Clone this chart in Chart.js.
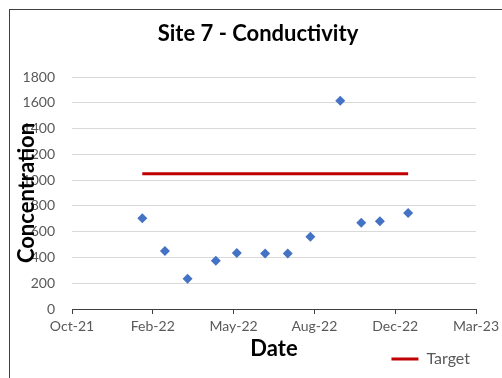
<!DOCTYPE html>
<html>
<head>
<meta charset="utf-8">
<script src="https://cdn.jsdelivr.net/npm/chart.js@4"></script>
<style>
  html, body { margin: 0; padding: 0; background: #fff; }
  #wrap { width: 502px; height: 378px; }
</style>
</head>
<body>
<div id="wrap"><canvas id="siteChart" width="502" height="378"></canvas></div>
<script>
// sample dates and readings (conductivity)
const sampleDates = ['2022-01-26', '2022-02-23', '2022-03-23', '2022-04-27', '2022-05-23', '2022-06-27',
  '2022-07-25', '2022-08-22', '2022-09-28', '2022-10-24', '2022-11-16', '2022-12-21'];
const readings = [705, 450, 235, 375, 435, 430, 430, 560, 1615, 670, 680, 745];
// target line
const targetDates = ['2022-01-26', '2022-12-21'];
const targetValues = [1050, 1050];
// axis ranges (excel date serials on x)
const xMin = 44500, xMax = 45000, xStep = 100;
const yMin = 0, yMax = 1800, yStep = 200;

const MONTHS = ['Jan', 'Feb', 'Mar', 'Apr', 'May', 'Jun', 'Jul', 'Aug', 'Sep', 'Oct', 'Nov', 'Dec'];
const EPOCH = Date.UTC(1899, 11, 30);

function toSerial(iso) {
  return Math.round((Date.parse(iso) - EPOCH) / 86400000);
}

function serialLabel(v) {
  const d = new Date(EPOCH + v * 86400000);
  return MONTHS[d.getUTCMonth()] + '-' + String(d.getUTCFullYear()).slice(2);
}

const FONT = 'Lato, "Open Sans", sans-serif';
const GREY = '#595959';

// white background, outer frame, chart title and both axis titles
const frame = {
  id: 'frame',
  beforeDraw(chart) {
    const ctx = chart.ctx;
    ctx.save();
    ctx.fillStyle = '#fff';
    ctx.fillRect(0, 0, chart.width, chart.height);
    ctx.strokeStyle = '#404040';
    ctx.lineWidth = 1;
    ctx.strokeRect(9.5, 9.5, chart.width + 20, chart.height + 20);
    ctx.restore();
  },
  afterDraw(chart) {
    const ctx = chart.ctx;
    const area = chart.chartArea;
    ctx.save();
    ctx.fillStyle = '#000';
    ctx.textAlign = 'center';
    ctx.textBaseline = 'middle';
    ctx.font = 'bold 22px ' + FONT;
    ctx.fillText('Site 7 - Conductivity', 258, 34);
    ctx.fillText('Date', (area.left + area.right) / 2, 349);
    ctx.translate(27, (area.top + area.bottom) / 2);
    ctx.rotate(-Math.PI / 2);
    ctx.fillText('Concentration', 0, 0);
    ctx.restore();
  }
};

const points = sampleDates.map((d, i) => ({ x: toSerial(d), y: readings[i] }));
const target = targetDates.map((d, i) => ({ x: toSerial(d), y: targetValues[i] }));

const config = {
  type: 'scatter',
  data: {
    datasets: [{
      label: 'Conductivity',
      data: points,
      pointStyle: 'rectRot',
      pointRadius: 5,
      pointHoverRadius: 5,
      backgroundColor: '#4472C4',
      borderColor: '#4472C4',
      borderWidth: 0,
    }, {
      label: 'Target',
      data: target,
      showLine: true,
      pointRadius: 0,
      pointStyle: 'line',
      borderColor: '#C00000',
      backgroundColor: '#C00000',
      borderWidth: 3,
    }]
  },
  options: {
    responsive: false,
    animation: false,
    layout: { padding: { left: 0, right: 26, top: 77, bottom: 1 } },
    plugins: {
      title: { display: false },
      legend: {
        position: 'bottom',
        align: 'end',
        labels: {
          filter: item => item.text === 'Target',
          usePointStyle: true,
          pointStyleWidth: 27,
          color: GREY,
          font: { family: FONT, size: 16 },
          padding: 6
        }
      },
      tooltip: { enabled: false }
    },
    scales: {
      x: {
        type: 'linear',
        min: xMin,
        max: xMax,
        afterFit(scale) {
          scale.paddingLeft = 0;
          scale.paddingRight = 0;
          scale.height = 36;
        },
        ticks: {
          stepSize: xStep,
          color: GREY,
          font: { family: FONT, size: 14 },
          padding: 4,
          maxRotation: 0,
          callback: v => serialLabel(v)
        },
        grid: { drawOnChartArea: false, drawTicks: true, tickLength: 5, color: '#404040' },
        border: { color: '#404040', width: 1 }
      },
      y: {
        min: yMin,
        max: yMax,
        afterFit(scale) {
          scale.width = 72;
          scale.paddingTop = 0;
          scale.paddingBottom = 0;
        },
        ticks: {
          stepSize: yStep,
          color: GREY,
          font: { family: FONT, size: 14 },
          padding: 17,
          callback: v => String(v)
        },
        grid: { color: '#D9D9D9', drawTicks: false },
        border: { display: false }
      }
    }
  },
  plugins: [frame]
};

new Chart(document.getElementById('siteChart'), config);
</script>
</body>
</html>
